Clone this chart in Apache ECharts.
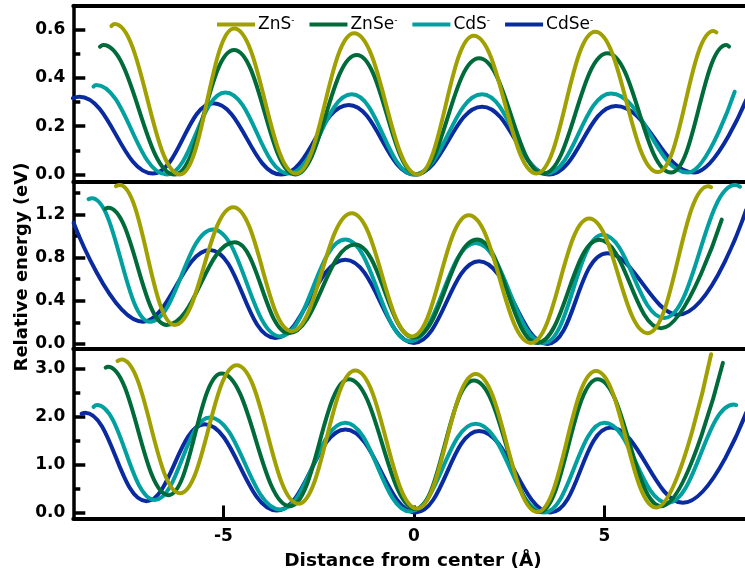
<!DOCTYPE html>
<html>
<head>
<meta charset="utf-8">
<script src="https://cdn.jsdelivr.net/npm/echarts@6/dist/echarts.min.js"></script>
<style>
  html, body { margin: 0; padding: 0; background: #fff; }
  #chart { width: 745px; height: 577px; }
</style>
</head>
<body>
<div id="chart"></div>
<script>
// distance from center (Å), relative energy (eV)
const znsTop  = [[-7.94, 0.615], [-7.85, 0.623], [-6.14, 0.0], [-4.72, 0.605], [-3.1, 0.004], [-1.57, 0.585], [0.1, 0.0], [1.57, 0.575], [3.22, 0.004], [4.76, 0.591], [6.4, 0.01], [7.86, 0.594], [7.94, 0.589]]
const znseTop = [[-8.24, 0.529], [-8.15, 0.536], [-6.28, 0.0], [-4.72, 0.516], [-3.12, 0.0], [-1.5, 0.495], [0.08, 0.0], [1.71, 0.481], [3.4, 0.004], [5.08, 0.502], [6.75, 0.008], [8.2, 0.536], [8.27, 0.53]]
const cdsTop  = [[-8.41, 0.364], [-8.34, 0.371], [-6.49, 0.0], [-4.95, 0.34], [-3.29, 0.004], [-1.63, 0.332], [0.0, 0.0], [1.79, 0.332], [3.48, 0.004], [5.17, 0.336], [7.19, 0.008], [8.42, 0.343]]
const cdseTop = [[-8.95, 0.316], [-8.78, 0.322], [-6.85, 0.004], [-5.27, 0.295], [-3.49, 0.0], [-1.71, 0.288], [0.02, 0.0], [1.79, 0.281], [3.55, 0.0], [5.3, 0.284], [7.36, 0.008], [8.72, 0.308]]

const znsMid  = [[-7.82, 1.46], [-7.72, 1.47], [-6.28, 0.176], [-4.74, 1.265], [-3.21, 0.118], [-1.63, 1.21], [-0.05, 0.07], [1.44, 1.19], [3.07, 0.01], [4.6, 1.16], [6.14, 0.1], [7.72, 1.46], [7.8, 1.45]]
const znseMid = [[-8.1, 1.25], [-8.02, 1.26], [-6.49, 0.176], [-4.7, 0.94], [-3.29, 0.1], [-1.54, 0.92], [0.0, 0.06], [1.66, 0.966], [3.24, 0.01], [4.86, 0.963], [6.49, 0.145], [8.08, 1.15]]
const cdsMid  = [[-8.54, 1.34], [-8.45, 1.347], [-6.93, 0.206], [-5.27, 1.06], [-3.51, 0.07], [-1.8, 0.966], [-0.1, 0.025], [1.62, 0.935], [3.42, 0.01], [4.95, 1.01], [6.57, 0.24], [8.43, 1.47], [8.56, 1.455]]
const cdseMid = [[-8.93, 1.12], [-7.11, 0.206], [-5.36, 0.87], [-3.64, 0.055], [-1.8, 0.78], [0.0, 0.01], [1.71, 0.766], [3.5, 0.0], [5.08, 0.84], [6.93, 0.27], [8.72, 1.24]]

const znsBot  = [[-7.78, 3.16], [-7.67, 3.19], [-6.14, 0.4], [-4.65, 3.07], [-3.03, 0.18], [-1.54, 2.96], [0.08, 0.08], [1.62, 2.89], [3.24, 0.01], [4.78, 2.95], [6.36, 0.1], [7.8, 3.3]]
const znseBot = [[-8.09, 3.02], [-8.03, 3.04], [-6.44, 0.36], [-5.05, 2.9], [-3.25, 0.13], [-1.71, 2.78], [0.05, 0.07], [1.57, 2.75], [3.29, 0.01], [4.82, 2.78], [6.49, 0.13], [8.11, 3.12]]
const cdsBot  = [[-8.41, 2.2], [-8.32, 2.24], [-6.8, 0.26], [-5.36, 1.98], [-3.51, 0.06], [-1.8, 1.87], [-0.1, 0.02], [1.62, 1.85], [3.42, 0.0], [5.0, 1.87], [6.66, 0.2], [8.4, 2.25], [8.46, 2.24]]
const cdseBot = [[-8.72, 2.06], [-8.63, 2.08], [-7.02, 0.235], [-5.49, 1.84], [-3.6, 0.04], [-1.8, 1.73], [0.05, 0.0], [1.71, 1.7], [3.59, 0.0], [5.17, 1.77], [7.06, 0.2], [8.72, 2.08]]

const names = ['ZnS', 'ZnSe', 'CdS', 'CdSe']
const xTicks = [-5, 0, 5]
const yTicksTop = [0, 0.2, 0.4, 0.6]
const yMinorTop = [0.1, 0.3, 0.5]
const yTicksMid = [0, 0.4, 0.8, 1.2]
const yMinorMid = [0.2, 0.6, 1.0, 1.4]
const yTicksBot = [0, 1, 2, 3]
const yMinorBot = [0.5, 1.5, 2.5]

const colors = { ZnS: '#a0a000', ZnSe: '#006b3a', CdS: '#00a0a0', CdSe: '#0a2aa0' }
const font = 'DejaVu Sans'
const black = '#000'

const grids = [
  { left: 73.3, right: 0, top: 5.5, height: 176 },
  { left: 73.3, right: 0, top: 181.5, height: 167 },
  { left: 73.3, right: 0, top: 348.5, height: 170 }
]
const yRanges = [[-0.029, 0.70], [-0.042, 1.503], [-0.127, 3.42]]
const majors = [yTicksTop, yTicksMid, yTicksBot]
const minors = [yMinorTop, yMinorMid, yMinorBot]

function xAxisFor(i, pos) {
  const bottom = i === 2 && pos === 'bottom'
  return {
    type: 'value', gridIndex: i, position: pos, min: -8.94, max: 8.69,
    axisLine: { show: true, onZero: false, lineStyle: { color: black, width: 4 } },
    axisTick: bottom ? { show: true, inside: true, length: 13, customValues: xTicks, lineStyle: { color: black, width: 3 } } : { show: false },
    axisLabel: bottom ? { show: true, customValues: xTicks, margin: 10, color: black, fontFamily: font, fontSize: 17, fontWeight: 'bold', formatter: v => String(v) } : { show: false },
    splitLine: { show: false }
  }
}

const xAxes = [xAxisFor(0, 'bottom'), xAxisFor(1, 'bottom'), xAxisFor(2, 'bottom'), xAxisFor(0, 'top')]

const yAxes = []
for (let i = 0; i < 3; i++) {
  yAxes.push({
    type: 'value', gridIndex: i, position: 'left', min: yRanges[i][0], max: yRanges[i][1],
    axisLine: { show: true, onZero: false, lineStyle: { color: black, width: 3.5 } },
    axisTick: { show: true, inside: true, length: 12, customValues: majors[i], lineStyle: { color: black, width: 3.5 } },
    axisLabel: { show: true, customValues: majors[i], margin: 8, color: black, fontFamily: font, fontSize: 17, fontWeight: 'bold', formatter: v => v.toFixed(1) },
    splitLine: { show: false }
  })
}
for (let i = 0; i < 3; i++) {
  yAxes.push({
    type: 'value', gridIndex: i, position: 'left', min: yRanges[i][0], max: yRanges[i][1],
    axisLine: { show: false, onZero: false },
    axisTick: { show: true, inside: true, length: 7, customValues: minors[i], lineStyle: { color: black, width: 3.5 } },
    axisLabel: { show: false },
    splitLine: { show: false }
  })
}

const panels = [
  { CdSe: cdseTop, CdS: cdsTop, ZnSe: znseTop, ZnS: znsTop },
  { CdSe: cdseMid, CdS: cdsMid, ZnSe: znseMid, ZnS: znsMid },
  { CdSe: cdseBot, CdS: cdsBot, ZnSe: znseBot, ZnS: znsBot }
]

const series = []
panels.forEach((p, i) => {
  ['CdSe', 'CdS', 'ZnSe', 'ZnS'].forEach(n => {
    // the blue curve in the lower panels is still rising at the right edge
    const rising = n === 'CdSe' && i > 0
    series.push({
      name: n, type: 'line', xAxisIndex: i, yAxisIndex: i,
      data: p[n], showSymbol: false, symbol: 'none',
      smooth: 0.42, smoothMonotone: rising ? null : 'x',
      lineStyle: { color: colors[n], width: 4, cap: 'round' },
      itemStyle: { color: colors[n] }
    })
  })
})

const chart = echarts.init(document.getElementById('chart'))
chart.setOption({
  animation: false,
  backgroundColor: '#fff',
  grid: grids,
  xAxis: xAxes,
  yAxis: yAxes,
  legend: {
    data: names, left: 212, top: 11, icon: 'rect', itemWidth: 38, itemHeight: 4, itemGap: 15,
    formatter: n => n + '{sup|-}',
    textStyle: {
      color: black, fontFamily: font, fontSize: 17, padding: [0, 0, 0, -2],
      rich: { sup: { fontSize: 9, verticalAlign: 'top', color: black, fontFamily: font } }
    }
  },
  graphic: [
    { type: 'text', x: 22, y: 267, rotation: Math.PI / 2,
      style: { text: 'Relative energy (eV)', fill: black, font: 'bold 18px "DejaVu Sans"', align: 'center', verticalAlign: 'middle' } },
    { type: 'text', x: 413, y: 561,
      style: { text: 'Distance from center (Å)', fill: black, font: 'bold 18.5px "DejaVu Sans"', align: 'center', verticalAlign: 'middle' } }
  ],
  series: series
})
</script>
</body>
</html>
